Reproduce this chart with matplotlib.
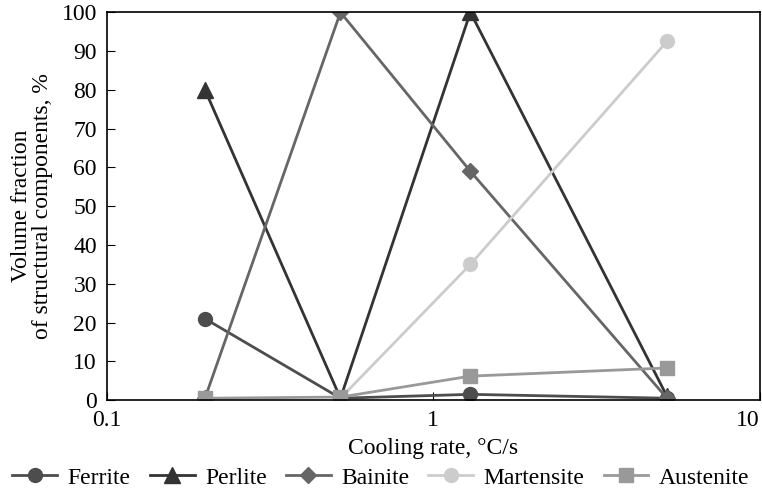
import numpy as np
import matplotlib.pyplot as plt

plt.rcParams['font.family'] = ['Liberation Serif', 'DejaVu Serif']

# cooling rates, °C/s
rate = [0.2, 0.52, 1.3, 5.2]
rate_m = [0.52, 1.3, 5.2]

ferrite = [21, 0.5, 1.5, 0.5]
perlite = [80, 0.5, 100, 1]
bainite = [0.5, 100, 59, 0.5]
martensite = [0.5, 35, 92.5]
austenite = [0.5, 0.8, 6.2, 8.3]

fig, ax = plt.subplots(figsize=(7.62, 4.91), dpi=100)

ax.plot(rate, ferrite, color='#4d4d4d', marker='o', ms=10, lw=2, label='Ferrite')
ax.plot(rate, perlite, color='#333333', marker='^', ms=11, lw=2, label='Perlite')
ax.plot(rate, bainite, color='#666666', marker='D', ms=8, lw=2, label='Bainite')
ax.plot(rate_m, martensite, color='#cccccc', marker='o', ms=10, lw=2, label='Martensite')
ax.plot(rate, austenite, color='#999999', marker='s', ms=10, lw=2, label='Austenite')

ax.set_xscale('log')
ax.set_xlim(0.1, 10)
ax.set_ylim(0, 100)
ax.set_yticks(range(0, 101, 10))
ax.set_xticks([0.1, 1, 10])
ax.set_xticklabels(['0.1', '1', '10'])
ax.get_xticklabels()[2].set_ha('right')
ax.minorticks_off()
ax.tick_params(direction='in', labelsize=17, length=6)
ax.tick_params(axis='x', pad=7)
ax.tick_params(axis='y', pad=7)
for s in ax.spines.values():
    s.set_linewidth(1.2)

ax.set_xlabel('Cooling rate, °C/s', fontsize=17, labelpad=5)
ax.set_ylabel('Volume fraction\nof structural components, %', fontsize=17,
              linespacing=1.0, labelpad=6)

ax.legend(loc='upper center', bbox_to_anchor=(0.42, -0.13), ncol=5, frameon=False,
          fontsize=17, handlelength=1.9, columnspacing=0.8, handletextpad=0.45,
          borderpad=0.2)

plt.subplots_adjust(left=0.14, right=0.997, top=0.975, bottom=0.185)
plt.savefig('out.png')
